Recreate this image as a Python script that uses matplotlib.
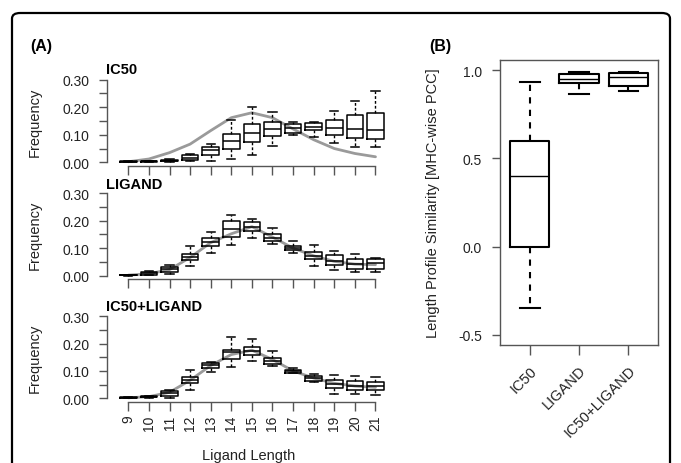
import matplotlib
matplotlib.use('Agg')
import matplotlib.pyplot as plt
from matplotlib.patches import FancyBboxPatch

plt.rcParams['font.family'] = ['Liberation Sans', 'DejaVu Sans']

# ---------------- data ----------------
lengths = list(range(9, 22))
length_labels = [str(v) for v in lengths]

# IC50 panel: whislo, q1, median, q3, whishi per length
ic50_whislo = [0.000, 0.000, 0.001, 0.003, 0.005, 0.012, 0.028, 0.058, 0.100, 0.093, 0.070, 0.055, 0.055]
ic50_q1     = [0.001, 0.002, 0.003, 0.010, 0.026, 0.050, 0.072, 0.095, 0.108, 0.118, 0.099, 0.088, 0.085]
ic50_med    = [0.002, 0.003, 0.005, 0.016, 0.044, 0.078, 0.106, 0.121, 0.123, 0.129, 0.126, 0.121, 0.117]
ic50_q3     = [0.003, 0.004, 0.008, 0.025, 0.056, 0.104, 0.140, 0.145, 0.138, 0.141, 0.152, 0.170, 0.180]
ic50_whishi = [0.004, 0.006, 0.012, 0.029, 0.068, 0.155, 0.200, 0.183, 0.145, 0.147, 0.188, 0.224, 0.258]
ic50_curve  = [0.002, 0.012, 0.035, 0.066, 0.115, 0.162, 0.180, 0.162, 0.121, 0.082, 0.050, 0.032, 0.020]

# LIGAND panel
lig_whislo = [0.000, 0.001, 0.006, 0.036, 0.081, 0.111, 0.136, 0.115, 0.084, 0.035, 0.021, 0.015, 0.013]
lig_q1     = [0.001, 0.004, 0.015, 0.058, 0.107, 0.140, 0.162, 0.125, 0.092, 0.060, 0.040, 0.026, 0.024]
lig_med    = [0.002, 0.008, 0.024, 0.068, 0.123, 0.168, 0.178, 0.138, 0.100, 0.072, 0.054, 0.042, 0.045]
lig_q3     = [0.003, 0.012, 0.033, 0.079, 0.138, 0.197, 0.193, 0.151, 0.108, 0.085, 0.074, 0.061, 0.062]
lig_whishi = [0.004, 0.016, 0.040, 0.106, 0.159, 0.220, 0.204, 0.173, 0.125, 0.111, 0.090, 0.080, 0.066]
lig_curve  = [0.002, 0.007, 0.022, 0.066, 0.120, 0.152, 0.178, 0.140, 0.100, 0.072, 0.052, 0.042, 0.040]

# IC50+LIGAND panel
both_whislo = [0.000, 0.000, 0.000, 0.031, 0.097, 0.115, 0.136, 0.119, 0.091, 0.061, 0.017, 0.016, 0.012]
both_q1     = [0.001, 0.003, 0.010, 0.056, 0.111, 0.142, 0.158, 0.124, 0.094, 0.065, 0.037, 0.031, 0.029]
both_med    = [0.002, 0.005, 0.018, 0.067, 0.122, 0.168, 0.174, 0.136, 0.100, 0.073, 0.052, 0.046, 0.045]
both_q3     = [0.003, 0.007, 0.028, 0.077, 0.130, 0.178, 0.186, 0.148, 0.105, 0.081, 0.066, 0.063, 0.061]
both_whishi = [0.004, 0.010, 0.032, 0.103, 0.134, 0.225, 0.217, 0.174, 0.112, 0.090, 0.084, 0.080, 0.077]
both_curve  = [0.002, 0.006, 0.022, 0.066, 0.120, 0.160, 0.176, 0.142, 0.100, 0.074, 0.055, 0.045, 0.040]

# Panel B: Length profile similarity
b_labels = ['IC50', 'LIGAND', 'IC50+LIGAND']
b_whislo = [-0.35, 0.865, 0.879]
b_q1     = [0.00, 0.925, 0.907]
b_med    = [0.40, 0.950, 0.960]
b_q3     = [0.60, 0.977, 0.983]
b_whishi = [0.93, 0.990, 0.990]

panelA_titles = ['IC50', 'LIGAND', 'IC50+LIGAND']
freq_ticks = [0.00, 0.05, 0.10, 0.15, 0.20, 0.25, 0.30]
b_ticks = [-0.5, 0.0, 0.5, 1.0]

# ---------------- figure ----------------
W, H = 681, 464
fig = plt.figure(figsize=(W / 100, H / 100), dpi=100)
TXT = '#222222'
AXC = '#555555'


def px_axes(left, right, top, bottom):
    return fig.add_axes([left / W, 1 - bottom / H, (right - left) / W, (bottom - top) / H])


def stats(wl, q1, med, q3, wh, labels):
    return [dict(whislo=a, q1=b, med=c, q3=d, whishi=e, label=l, fliers=[])
            for a, b, c, d, e, l in zip(wl, q1, med, q3, wh, labels)]


# frame
frame = FancyBboxPatch((12 / W, -0.05), (670 - 12) / W, (1 - 14 / H) + 0.05,
                       boxstyle='round,pad=0,rounding_size=0.012',
                       transform=fig.transFigure, fill=False, edgecolor='black',
                       linewidth=1.6, clip_on=False)
fig.patches.append(frame)

panels = [
    (ic50_whislo, ic50_q1, ic50_med, ic50_q3, ic50_whishi, ic50_curve, 77.4, 166.6, 70),
    (lig_whislo, lig_q1, lig_med, lig_q3, lig_whishi, lig_curve, 190.7, 280.0, 185),
    (both_whislo, both_q1, both_med, both_q3, both_whishi, both_curve, 314.0, 402.6, 307),
]
positions = list(range(1, len(lengths) + 1))

for i, (wl, q1, md, q3, wh, curve, top, bottom, title_y) in enumerate(panels):
    ax = px_axes(107.3, 396.5, top, bottom)
    ax.plot(positions, curve, color='#9a9a9a', lw=2.0, zorder=1, solid_capstyle='round')
    ax.bxp(stats(wl, q1, md, q3, wh, length_labels), positions=positions, widths=0.8,
           capwidths=0.4, showfliers=False, patch_artist=False,
           boxprops=dict(color='black', lw=1.1),
           whiskerprops=dict(color='black', lw=1.0, linestyle=(0, (2, 1.5))),
           capprops=dict(color='black', lw=1.1),
           medianprops=dict(color='black', lw=1.1))
    ax.set_xlim(-0.02, 14.02)
    ax.set_ylim(-0.012, 0.312)
    for s in ['top', 'right']:
        ax.spines[s].set_visible(False)
    ax.spines['left'].set_bounds(0, 0.30)
    ax.spines['bottom'].set_bounds(1, 13)
    for s in ['left', 'bottom']:
        ax.spines[s].set_color(AXC)
        ax.spines[s].set_linewidth(1.0)
    ax.set_yticks(freq_ticks)
    ax.set_yticklabels([f'{t:.2f}' if round(t * 100) % 10 == 0 else '' for t in freq_ticks])
    ax.set_xticks(positions)
    if i == 2:
        ax.set_xticklabels(length_labels, rotation=90, fontsize=10, color=TXT)
    else:
        ax.set_xticklabels([])
    ax.tick_params(axis='y', length=5.5, width=1.0, color=AXC, pad=7.5, labelsize=10, labelcolor=TXT)
    ax.tick_params(axis='x', length=6.5, width=1.0, color=AXC, pad=3)
    ax.set_ylabel('Frequency', fontsize=10.5, color=TXT)
    ax.yaxis.set_label_coords(-0.226, 0.5)
    ax.patch.set_alpha(0)
    fig.text(106 / W, 1 - title_y / H, panelA_titles[i], fontsize=10.5, fontweight='bold',
             color='black', ha='left', va='center')

fig.text(249 / W, 1 - 456 / H, 'Ligand Length', fontsize=10.5, color=TXT, ha='center', va='center')
fig.text(41 / W, 1 - 46 / H, '(A)', fontsize=11.5, fontweight='bold', color='black', ha='center', va='center')
fig.text(440 / W, 1 - 47 / H, '(B)', fontsize=11.5, fontweight='bold', color='black', ha='center', va='center')

# Panel B
axb = px_axes(500, 658, 61, 346)
axb.bxp(stats(b_whislo, b_q1, b_med, b_q3, b_whishi, b_labels), positions=[1, 2, 3],
        widths=0.8, capwidths=0.4, showfliers=False,
        boxprops=dict(color='black', lw=1.5),
        whiskerprops=dict(color='black', lw=1.5, linestyle=(0, (3, 3))),
        capprops=dict(color='black', lw=1.5),
        medianprops=dict(color='black', lw=1.0))
axb.set_xlim(0.4, 3.6)
axb.set_ylim(-0.557, 1.057)
for s in axb.spines.values():
    s.set_color(AXC)
    s.set_linewidth(1.0)
axb.set_yticks(b_ticks)
axb.set_yticklabels([f'{t:.1f}' for t in b_ticks])
axb.set_xticks([1, 2, 3])
axb.set_xticklabels(b_labels, rotation=45, ha='right', rotation_mode='anchor', fontsize=10.5, color=TXT)
axb.tick_params(axis='y', length=6, width=1.0, color=AXC, pad=7, labelsize=10, labelcolor=TXT)
axb.tick_params(axis='x', length=7, width=1.0, color=AXC, pad=6)
axb.set_ylabel('Length Profile Similarity [MHC-wise PCC]', fontsize=10.5, color=TXT)
axb.yaxis.set_label_coords((440 - 500) / 158, 0.5)

fig.savefig('out.png', dpi=100)
